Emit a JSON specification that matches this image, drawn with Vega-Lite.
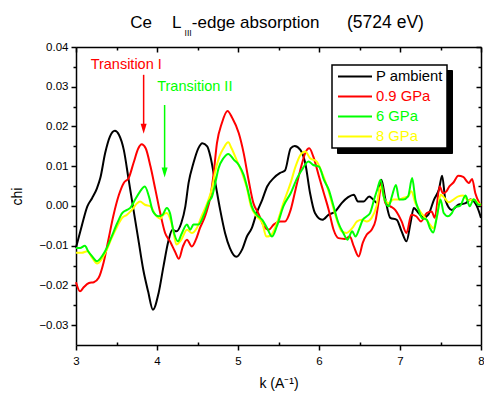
{
"$schema":"https://vega.github.io/schema/vega-lite/v6.json",
"width":405,"height":298,
"autosize":{"type":"none"},
"padding":{"left":76,"top":47,"right":3,"bottom":49},
"config":{
 "font":"Liberation Sans",
 "view":{"stroke":null},
 "axis":{"grid":false,"domainColor":"black","domainWidth":1.5,"tickColor":"black","tickWidth":1.5,"labelFont":"Liberation Sans","labelFontSize":11.5,"labelColor":"black","titleFont":"Liberation Sans","titleFontSize":14,"titleFontWeight":"normal","titleColor":"black","labelFlush":false,"labelOverlap":false},
 "legend":{"labelFont":"Liberation Sans","labelFontSize":14.8,"symbolType":"stroke","symbolSize":1156,"symbolStrokeWidth":2,"clipHeight":15,"rowPadding":4,"labelOffset":3,"symbolOffset":1,"padding":4}
},
"resolve":{"axis":{"x":"independent","y":"independent"}},
"layer":[
{"data":{"values":[
{"s":"P ambient","k":3.00,"chi":-0.0105},{"s":"P ambient","k":3.07,"chi":-0.0051},{"s":"P ambient","k":3.14,"chi":-0.0001},{"s":"P ambient","k":3.20,"chi":0.0020},{"s":"P ambient","k":3.26,"chi":0.0045},{"s":"P ambient","k":3.30,"chi":0.0070},{"s":"P ambient","k":3.36,"chi":0.0133},{"s":"P ambient","k":3.42,"chi":0.0175},{"s":"P ambient","k":3.48,"chi":0.0189},{"s":"P ambient","k":3.53,"chi":0.0179},{"s":"P ambient","k":3.59,"chi":0.0141},{"s":"P ambient","k":3.65,"chi":0.0066},{"s":"P ambient","k":3.71,"chi":-0.0010},{"s":"P ambient","k":3.77,"chi":-0.0085},{"s":"P ambient","k":3.83,"chi":-0.0160},{"s":"P ambient","k":3.89,"chi":-0.0215},{"s":"P ambient","k":3.95,"chi":-0.0261},{"s":"P ambient","k":4.02,"chi":-0.0219},{"s":"P ambient","k":4.08,"chi":-0.0152},{"s":"P ambient","k":4.14,"chi":-0.0089},{"s":"P ambient","k":4.19,"chi":-0.0060},{"s":"P ambient","k":4.24,"chi":-0.0064},{"s":"P ambient","k":4.30,"chi":-0.0043},{"s":"P ambient","k":4.35,"chi":-0.0001},{"s":"P ambient","k":4.39,"chi":0.0058},{"s":"P ambient","k":4.45,"chi":0.0108},{"s":"P ambient","k":4.51,"chi":0.0145},{"s":"P ambient","k":4.56,"chi":0.0158},{"s":"P ambient","k":4.62,"chi":0.0150},{"s":"P ambient","k":4.66,"chi":0.0124},{"s":"P ambient","k":4.72,"chi":0.0058},{"s":"P ambient","k":4.78,"chi":-0.0010},{"s":"P ambient","k":4.84,"chi":-0.0068},{"s":"P ambient","k":4.90,"chi":-0.0106},{"s":"P ambient","k":4.98,"chi":-0.0128},{"s":"P ambient","k":5.05,"chi":-0.0110},{"s":"P ambient","k":5.11,"chi":-0.0077},{"s":"P ambient","k":5.17,"chi":-0.0056},{"s":"P ambient","k":5.23,"chi":-0.0018},{"s":"P ambient","k":5.30,"chi":0.0016},{"s":"P ambient","k":5.36,"chi":0.0049},{"s":"P ambient","k":5.44,"chi":0.0070},{"s":"P ambient","k":5.52,"chi":0.0083},{"s":"P ambient","k":5.58,"chi":0.0089},{"s":"P ambient","k":5.65,"chi":0.0145},{"s":"P ambient","k":5.70,"chi":0.0151},{"s":"P ambient","k":5.77,"chi":0.0141},{"s":"P ambient","k":5.83,"chi":0.0108},{"s":"P ambient","k":5.89,"chi":0.0032},{"s":"P ambient","k":5.95,"chi":-0.0018},{"s":"P ambient","k":6.04,"chi":-0.0035},{"s":"P ambient","k":6.12,"chi":-0.0022},{"s":"P ambient","k":6.20,"chi":-0.0014},{"s":"P ambient","k":6.28,"chi":0.0007},{"s":"P ambient","k":6.36,"chi":0.0022},{"s":"P ambient","k":6.43,"chi":0.0028},{"s":"P ambient","k":6.48,"chi":0.0011},{"s":"P ambient","k":6.55,"chi":0.0011},{"s":"P ambient","k":6.62,"chi":0.0024},{"s":"P ambient","k":6.67,"chi":0.0016},{"s":"P ambient","k":6.72,"chi":0.0007},{"s":"P ambient","k":6.77,"chi":0.0066},{"s":"P ambient","k":6.82,"chi":0.0016},{"s":"P ambient","k":6.88,"chi":-0.0030},{"s":"P ambient","k":6.96,"chi":-0.0035},{"s":"P ambient","k":7.02,"chi":-0.0064},{"s":"P ambient","k":7.08,"chi":-0.0089},{"s":"P ambient","k":7.13,"chi":-0.0043},{"s":"P ambient","k":7.17,"chi":-0.0005},{"s":"P ambient","k":7.23,"chi":-0.0018},{"s":"P ambient","k":7.29,"chi":-0.0030},{"s":"P ambient","k":7.35,"chi":-0.0022},{"s":"P ambient","k":7.42,"chi":0.0016},{"s":"P ambient","k":7.48,"chi":0.0041},{"s":"P ambient","k":7.52,"chi":0.0076},{"s":"P ambient","k":7.56,"chi":0.0016},{"s":"P ambient","k":7.64,"chi":-0.0010},{"s":"P ambient","k":7.72,"chi":0.0003},{"s":"P ambient","k":7.81,"chi":0.0007},{"s":"P ambient","k":7.87,"chi":0.0016},{"s":"P ambient","k":7.95,"chi":-0.0001},{"s":"P ambient","k":8.00,"chi":-0.0030},
{"s":"0.9 GPa","k":3.00,"chi":-0.0192},{"s":"0.9 GPa","k":3.05,"chi":-0.0215},{"s":"0.9 GPa","k":3.09,"chi":-0.0206},{"s":"0.9 GPa","k":3.16,"chi":-0.0194},{"s":"0.9 GPa","k":3.22,"chi":-0.0192},{"s":"0.9 GPa","k":3.28,"chi":-0.0181},{"s":"0.9 GPa","k":3.34,"chi":-0.0143},{"s":"0.9 GPa","k":3.40,"chi":-0.0085},{"s":"0.9 GPa","k":3.46,"chi":-0.0026},{"s":"0.9 GPa","k":3.53,"chi":0.0028},{"s":"0.9 GPa","k":3.59,"chi":0.0058},{"s":"0.9 GPa","k":3.65,"chi":0.0070},{"s":"0.9 GPa","k":3.71,"chi":0.0108},{"s":"0.9 GPa","k":3.77,"chi":0.0145},{"s":"0.9 GPa","k":3.81,"chi":0.0155},{"s":"0.9 GPa","k":3.86,"chi":0.0145},{"s":"0.9 GPa","k":3.92,"chi":0.0099},{"s":"0.9 GPa","k":3.98,"chi":0.0041},{"s":"0.9 GPa","k":4.04,"chi":-0.0018},{"s":"0.9 GPa","k":4.10,"chi":-0.0068},{"s":"0.9 GPa","k":4.16,"chi":-0.0089},{"s":"0.9 GPa","k":4.22,"chi":-0.0114},{"s":"0.9 GPa","k":4.27,"chi":-0.0133},{"s":"0.9 GPa","k":4.32,"chi":-0.0102},{"s":"0.9 GPa","k":4.37,"chi":-0.0085},{"s":"0.9 GPa","k":4.43,"chi":-0.0102},{"s":"0.9 GPa","k":4.48,"chi":-0.0085},{"s":"0.9 GPa","k":4.53,"chi":-0.0056},{"s":"0.9 GPa","k":4.60,"chi":-0.0022},{"s":"0.9 GPa","k":4.66,"chi":0.0024},{"s":"0.9 GPa","k":4.70,"chi":0.0083},{"s":"0.9 GPa","k":4.74,"chi":0.0158},{"s":"0.9 GPa","k":4.80,"chi":0.0208},{"s":"0.9 GPa","k":4.87,"chi":0.0239},{"s":"0.9 GPa","k":4.93,"chi":0.0221},{"s":"0.9 GPa","k":5.01,"chi":0.0183},{"s":"0.9 GPa","k":5.07,"chi":0.0133},{"s":"0.9 GPa","k":5.13,"chi":0.0066},{"s":"0.9 GPa","k":5.19,"chi":0.0007},{"s":"0.9 GPa","k":5.25,"chi":-0.0018},{"s":"0.9 GPa","k":5.32,"chi":-0.0051},{"s":"0.9 GPa","k":5.38,"chi":-0.0060},{"s":"0.9 GPa","k":5.44,"chi":-0.0047},{"s":"0.9 GPa","k":5.52,"chi":-0.0039},{"s":"0.9 GPa","k":5.58,"chi":-0.0039},{"s":"0.9 GPa","k":5.65,"chi":-0.0010},{"s":"0.9 GPa","k":5.71,"chi":0.0041},{"s":"0.9 GPa","k":5.77,"chi":0.0091},{"s":"0.9 GPa","k":5.83,"chi":0.0133},{"s":"0.9 GPa","k":5.88,"chi":0.0145},{"s":"0.9 GPa","k":5.93,"chi":0.0124},{"s":"0.9 GPa","k":6.00,"chi":0.0074},{"s":"0.9 GPa","k":6.06,"chi":0.0032},{"s":"0.9 GPa","k":6.12,"chi":-0.0010},{"s":"0.9 GPa","k":6.18,"chi":-0.0060},{"s":"0.9 GPa","k":6.24,"chi":-0.0081},{"s":"0.9 GPa","k":6.32,"chi":-0.0083},{"s":"0.9 GPa","k":6.38,"chi":-0.0077},{"s":"0.9 GPa","k":6.43,"chi":-0.0102},{"s":"0.9 GPa","k":6.49,"chi":-0.0127},{"s":"0.9 GPa","k":6.54,"chi":-0.0093},{"s":"0.9 GPa","k":6.59,"chi":-0.0072},{"s":"0.9 GPa","k":6.65,"chi":-0.0060},{"s":"0.9 GPa","k":6.70,"chi":-0.0035},{"s":"0.9 GPa","k":6.74,"chi":0.0016},{"s":"0.9 GPa","k":6.77,"chi":0.0058},{"s":"0.9 GPa","k":6.82,"chi":0.0007},{"s":"0.9 GPa","k":6.88,"chi":-0.0001},{"s":"0.9 GPa","k":6.94,"chi":-0.0010},{"s":"0.9 GPa","k":7.02,"chi":-0.0039},{"s":"0.9 GPa","k":7.08,"chi":-0.0068},{"s":"0.9 GPa","k":7.14,"chi":-0.0022},{"s":"0.9 GPa","k":7.20,"chi":-0.0026},{"s":"0.9 GPa","k":7.26,"chi":-0.0039},{"s":"0.9 GPa","k":7.33,"chi":-0.0018},{"s":"0.9 GPa","k":7.39,"chi":-0.0014},{"s":"0.9 GPa","k":7.43,"chi":-0.0030},{"s":"0.9 GPa","k":7.49,"chi":0.0049},{"s":"0.9 GPa","k":7.53,"chi":0.0032},{"s":"0.9 GPa","k":7.57,"chi":0.0036},{"s":"0.9 GPa","k":7.61,"chi":0.0049},{"s":"0.9 GPa","k":7.66,"chi":0.0059},{"s":"0.9 GPa","k":7.72,"chi":0.0076},{"s":"0.9 GPa","k":7.78,"chi":0.0073},{"s":"0.9 GPa","k":7.85,"chi":0.0058},{"s":"0.9 GPa","k":7.89,"chi":0.0068},{"s":"0.9 GPa","k":7.93,"chi":0.0032},{"s":"0.9 GPa","k":7.98,"chi":0.0007},{"s":"0.9 GPa","k":8.00,"chi":0.0000},
{"s":"8 GPa","k":3.00,"chi":-0.0118},{"s":"8 GPa","k":3.07,"chi":-0.0118},{"s":"8 GPa","k":3.14,"chi":-0.0114},{"s":"8 GPa","k":3.20,"chi":-0.0131},{"s":"8 GPa","k":3.26,"chi":-0.0145},{"s":"8 GPa","k":3.32,"chi":-0.0133},{"s":"8 GPa","k":3.38,"chi":-0.0110},{"s":"8 GPa","k":3.44,"chi":-0.0081},{"s":"8 GPa","k":3.51,"chi":-0.0051},{"s":"8 GPa","k":3.57,"chi":-0.0030},{"s":"8 GPa","k":3.63,"chi":-0.0022},{"s":"8 GPa","k":3.69,"chi":-0.0010},{"s":"8 GPa","k":3.75,"chi":0.0006},{"s":"8 GPa","k":3.79,"chi":0.0011},{"s":"8 GPa","k":3.85,"chi":0.0003},{"s":"8 GPa","k":3.92,"chi":-0.0001},{"s":"8 GPa","k":3.98,"chi":-0.0022},{"s":"8 GPa","k":4.04,"chi":-0.0032},{"s":"8 GPa","k":4.08,"chi":-0.0022},{"s":"8 GPa","k":4.12,"chi":-0.0018},{"s":"8 GPa","k":4.19,"chi":-0.0051},{"s":"8 GPa","k":4.24,"chi":-0.0097},{"s":"8 GPa","k":4.30,"chi":-0.0085},{"s":"8 GPa","k":4.37,"chi":-0.0060},{"s":"8 GPa","k":4.43,"chi":-0.0068},{"s":"8 GPa","k":4.49,"chi":-0.0056},{"s":"8 GPa","k":4.55,"chi":-0.0026},{"s":"8 GPa","k":4.62,"chi":0.0007},{"s":"8 GPa","k":4.68,"chi":0.0045},{"s":"8 GPa","k":4.72,"chi":0.0087},{"s":"8 GPa","k":4.77,"chi":0.0124},{"s":"8 GPa","k":4.82,"chi":0.0145},{"s":"8 GPa","k":4.88,"chi":0.0160},{"s":"8 GPa","k":4.92,"chi":0.0145},{"s":"8 GPa","k":4.99,"chi":0.0112},{"s":"8 GPa","k":5.05,"chi":0.0083},{"s":"8 GPa","k":5.11,"chi":0.0045},{"s":"8 GPa","k":5.16,"chi":-0.0001},{"s":"8 GPa","k":5.23,"chi":-0.0026},{"s":"8 GPa","k":5.30,"chi":-0.0043},{"s":"8 GPa","k":5.35,"chi":-0.0077},{"s":"8 GPa","k":5.40,"chi":-0.0075},{"s":"8 GPa","k":5.48,"chi":-0.0043},{"s":"8 GPa","k":5.56,"chi":0.0007},{"s":"8 GPa","k":5.65,"chi":0.0058},{"s":"8 GPa","k":5.71,"chi":0.0099},{"s":"8 GPa","k":5.77,"chi":0.0128},{"s":"8 GPa","k":5.83,"chi":0.0137},{"s":"8 GPa","k":5.89,"chi":0.0120},{"s":"8 GPa","k":5.97,"chi":0.0112},{"s":"8 GPa","k":6.03,"chi":0.0087},{"s":"8 GPa","k":6.10,"chi":0.0049},{"s":"8 GPa","k":6.16,"chi":0.0007},{"s":"8 GPa","k":6.22,"chi":-0.0035},{"s":"8 GPa","k":6.28,"chi":-0.0064},{"s":"8 GPa","k":6.34,"chi":-0.0068},{"s":"8 GPa","k":6.41,"chi":-0.0056},{"s":"8 GPa","k":6.47,"chi":-0.0039},{"s":"8 GPa","k":6.53,"chi":-0.0035},{"s":"8 GPa","k":6.59,"chi":-0.0039},{"s":"8 GPa","k":6.65,"chi":-0.0030},{"s":"8 GPa","k":6.71,"chi":-0.0001},{"s":"8 GPa","k":6.76,"chi":0.0049},{"s":"8 GPa","k":6.81,"chi":0.0016},{"s":"8 GPa","k":6.86,"chi":0.0007},{"s":"8 GPa","k":6.92,"chi":0.0016},{"s":"8 GPa","k":6.98,"chi":0.0016},{"s":"8 GPa","k":7.04,"chi":0.0020},{"s":"8 GPa","k":7.10,"chi":0.0024},{"s":"8 GPa","k":7.14,"chi":0.0037},{"s":"8 GPa","k":7.19,"chi":0.0007},{"s":"8 GPa","k":7.25,"chi":-0.0014},{"s":"8 GPa","k":7.31,"chi":-0.0030},{"s":"8 GPa","k":7.37,"chi":-0.0047},{"s":"8 GPa","k":7.41,"chi":-0.0056},{"s":"8 GPa","k":7.46,"chi":-0.0022},{"s":"8 GPa","k":7.50,"chi":0.0028},{"s":"8 GPa","k":7.55,"chi":0.0020},{"s":"8 GPa","k":7.60,"chi":0.0009},{"s":"8 GPa","k":7.66,"chi":0.0016},{"s":"8 GPa","k":7.72,"chi":0.0024},{"s":"8 GPa","k":7.78,"chi":0.0026},{"s":"8 GPa","k":7.84,"chi":0.0014},{"s":"8 GPa","k":7.91,"chi":0.0016},{"s":"8 GPa","k":7.97,"chi":0.0006},{"s":"8 GPa","k":8.00,"chi":0.0003},
{"s":"6 GPa","k":3.00,"chi":-0.0106},{"s":"6 GPa","k":3.05,"chi":-0.0106},{"s":"6 GPa","k":3.11,"chi":-0.0100},{"s":"6 GPa","k":3.15,"chi":-0.0114},{"s":"6 GPa","k":3.20,"chi":-0.0127},{"s":"6 GPa","k":3.26,"chi":-0.0139},{"s":"6 GPa","k":3.32,"chi":-0.0127},{"s":"6 GPa","k":3.38,"chi":-0.0106},{"s":"6 GPa","k":3.44,"chi":-0.0077},{"s":"6 GPa","k":3.51,"chi":-0.0043},{"s":"6 GPa","k":3.57,"chi":-0.0018},{"s":"6 GPa","k":3.63,"chi":-0.0010},{"s":"6 GPa","k":3.67,"chi":-0.0005},{"s":"6 GPa","k":3.73,"chi":0.0016},{"s":"6 GPa","k":3.79,"chi":0.0036},{"s":"6 GPa","k":3.85,"chi":0.0049},{"s":"6 GPa","k":3.90,"chi":0.0024},{"s":"6 GPa","k":3.95,"chi":-0.0014},{"s":"6 GPa","k":4.02,"chi":-0.0026},{"s":"6 GPa","k":4.07,"chi":-0.0022},{"s":"6 GPa","k":4.12,"chi":-0.0005},{"s":"6 GPa","k":4.16,"chi":-0.0018},{"s":"6 GPa","k":4.20,"chi":-0.0060},{"s":"6 GPa","k":4.26,"chi":-0.0089},{"s":"6 GPa","k":4.30,"chi":-0.0072},{"s":"6 GPa","k":4.37,"chi":-0.0047},{"s":"6 GPa","k":4.41,"chi":-0.0060},{"s":"6 GPa","k":4.45,"chi":-0.0047},{"s":"6 GPa","k":4.51,"chi":-0.0047},{"s":"6 GPa","k":4.58,"chi":-0.0022},{"s":"6 GPa","k":4.64,"chi":0.0011},{"s":"6 GPa","k":4.68,"chi":0.0024},{"s":"6 GPa","k":4.72,"chi":0.0058},{"s":"6 GPa","k":4.76,"chi":0.0095},{"s":"6 GPa","k":4.82,"chi":0.0120},{"s":"6 GPa","k":4.88,"chi":0.0131},{"s":"6 GPa","k":4.95,"chi":0.0116},{"s":"6 GPa","k":5.01,"chi":0.0103},{"s":"6 GPa","k":5.07,"chi":0.0078},{"s":"6 GPa","k":5.12,"chi":0.0041},{"s":"6 GPa","k":5.17,"chi":-0.0001},{"s":"6 GPa","k":5.23,"chi":-0.0022},{"s":"6 GPa","k":5.30,"chi":-0.0035},{"s":"6 GPa","k":5.36,"chi":-0.0056},{"s":"6 GPa","k":5.42,"chi":-0.0077},{"s":"6 GPa","k":5.48,"chi":-0.0051},{"s":"6 GPa","k":5.56,"chi":-0.0001},{"s":"6 GPa","k":5.65,"chi":0.0032},{"s":"6 GPa","k":5.73,"chi":0.0070},{"s":"6 GPa","k":5.79,"chi":0.0091},{"s":"6 GPa","k":5.87,"chi":0.0112},{"s":"6 GPa","k":5.93,"chi":0.0103},{"s":"6 GPa","k":6.00,"chi":0.0099},{"s":"6 GPa","k":6.06,"chi":0.0066},{"s":"6 GPa","k":6.12,"chi":0.0041},{"s":"6 GPa","k":6.18,"chi":-0.0001},{"s":"6 GPa","k":6.24,"chi":-0.0043},{"s":"6 GPa","k":6.30,"chi":-0.0068},{"s":"6 GPa","k":6.35,"chi":-0.0085},{"s":"6 GPa","k":6.41,"chi":-0.0064},{"s":"6 GPa","k":6.45,"chi":-0.0077},{"s":"6 GPa","k":6.50,"chi":-0.0056},{"s":"6 GPa","k":6.54,"chi":-0.0035},{"s":"6 GPa","k":6.59,"chi":-0.0026},{"s":"6 GPa","k":6.63,"chi":-0.0018},{"s":"6 GPa","k":6.68,"chi":0.0016},{"s":"6 GPa","k":6.72,"chi":0.0042},{"s":"6 GPa","k":6.76,"chi":0.0066},{"s":"6 GPa","k":6.80,"chi":0.0024},{"s":"6 GPa","k":6.86,"chi":-0.0001},{"s":"6 GPa","k":6.90,"chi":0.0024},{"s":"6 GPa","k":6.95,"chi":0.0053},{"s":"6 GPa","k":6.99,"chi":0.0016},{"s":"6 GPa","k":7.04,"chi":0.0016},{"s":"6 GPa","k":7.10,"chi":0.0024},{"s":"6 GPa","k":7.15,"chi":0.0070},{"s":"6 GPa","k":7.19,"chi":0.0016},{"s":"6 GPa","k":7.23,"chi":-0.0010},{"s":"6 GPa","k":7.27,"chi":-0.0030},{"s":"6 GPa","k":7.33,"chi":-0.0035},{"s":"6 GPa","k":7.37,"chi":-0.0056},{"s":"6 GPa","k":7.41,"chi":-0.0067},{"s":"6 GPa","k":7.46,"chi":-0.0022},{"s":"6 GPa","k":7.50,"chi":0.0016},{"s":"6 GPa","k":7.54,"chi":-0.0018},{"s":"6 GPa","k":7.59,"chi":-0.0026},{"s":"6 GPa","k":7.64,"chi":-0.0018},{"s":"6 GPa","k":7.68,"chi":-0.0003},{"s":"6 GPa","k":7.74,"chi":0.0000},{"s":"6 GPa","k":7.81,"chi":0.0026},{"s":"6 GPa","k":7.86,"chi":-0.0001},{"s":"6 GPa","k":7.91,"chi":0.0017},{"s":"6 GPa","k":7.97,"chi":0.0003},{"s":"6 GPa","k":8.00,"chi":0.0003}
]},
"mark":{"type":"line","strokeWidth":2,"interpolate":"monotone"},
"encoding":{
 "x":{"field":"k","type":"quantitative","scale":{"domain":[3,8],"nice":false,"zero":false},"axis":{"orient":"bottom","values":[3,4,5,6,7,8],"format":"d","tickSize":5,"labelPadding":5,"title":"k (A⁻¹)","titlePadding":10}},
 "y":{"field":"chi","type":"quantitative","scale":{"domain":[-0.035,0.04],"nice":false,"zero":false},"axis":{"orient":"left","values":[-0.03,-0.02,-0.01,0,0.01,0.02,0.03,0.04],"format":".2f","tickSize":5,"labelPadding":3,"title":"chi","titlePadding":14}},
 "color":{"field":"s","type":"nominal","scale":{"domain":["P ambient","0.9 GPa","6 GPa","8 GPa"],"range":["#000000","#ff0000","#00ff00","#ffff00"]},
  "legend":{"orient":"none","legendX":256,"legendY":18,"direction":"vertical","title":null,"fillColor":"white","strokeColor":"black","zindex":2,
   "encode":{"labels":{"update":{"fill":{"scale":"color","field":"value"}}},"legend":{"update":{"strokeWidth":{"value":1.5}}}}}}
}},
{"data":{"values":[{}]},"mark":{"type":"text","align":"center","baseline":"middle","fontSize":14.5,"color":"#ff0000"},
 "encoding":{"x":{"datum":3.62,"type":"quantitative","axis":{"orient":"bottom","values":[3.5,4.5,5.5,6.5,7.5],"tickSize":-3,"labels":false,"domain":false,"title":null}},
  "y":{"datum":0.0355,"type":"quantitative","axis":{"orient":"left","values":[-0.025,-0.015,-0.005,0.005,0.015,0.025,0.035],"tickSize":3,"labels":false,"domain":false,"title":null}},
  "text":{"value":"Transition I"}}},
{"data":{"values":[{}]},"mark":{"type":"text","align":"center","baseline":"middle","fontSize":14.5,"color":"#00ff00"},
 "encoding":{"x":{"datum":4.467,"type":"quantitative","axis":{"orient":"top","values":[3,4,5,6,7,8],"tickSize":-5,"labels":false,"title":null}},
  "y":{"datum":0.030,"type":"quantitative","axis":{"orient":"right","values":[-0.03,-0.02,-0.01,0,0.01,0.02,0.03,0.04],"tickSize":-5,"labels":false,"title":null}},
  "text":{"value":"Transition II"}}},
{"data":{"values":[{}]},"mark":{"type":"rule","color":"#ff0000","strokeWidth":1.5},
 "encoding":{"x":{"datum":3.835,"type":"quantitative","axis":{"orient":"top","values":[3.5,4.5,5.5,6.5,7.5],"tickSize":-3,"labels":false,"domain":false,"title":null}},
  "y":{"datum":0.0330,"type":"quantitative","axis":{"orient":"right","values":[-0.025,-0.015,-0.005,0.005,0.015,0.025,0.035],"tickSize":-3,"labels":false,"domain":false,"title":null}},
  "y2":{"datum":0.0198}}},
{"data":{"values":[{}]},"mark":{"type":"rule","color":"#00ff00","strokeWidth":1.5},
 "encoding":{"x":{"datum":4.094,"type":"quantitative","axis":null},"y":{"datum":0.0254,"type":"quantitative","axis":null},"y2":{"datum":0.0088}}},
{"data":{"values":[{}]},"mark":{"type":"point","shape":"M -0.6 -1 L 0.6 -1 L 0 1 Z","filled":true,"size":100,"color":"#ff0000","opacity":1},
 "encoding":{"x":{"datum":3.835,"type":"quantitative","axis":null},"y":{"datum":0.0194,"type":"quantitative","axis":null}}},
{"data":{"values":[{}]},"mark":{"type":"point","shape":"M -0.6 -1 L 0.6 -1 L 0 1 Z","filled":true,"size":100,"color":"#00ff00","opacity":1},
 "encoding":{"x":{"datum":4.094,"type":"quantitative","axis":null},"y":{"datum":0.0084,"type":"quantitative","axis":null}}},
{"data":{"values":[{}]},"mark":{"type":"text","align":"left","baseline":"alphabetic","fontSize":17,"color":"black"},
 "encoding":{"x":{"datum":3.670,"type":"quantitative","axis":null},"y":{"datum":0.04471,"type":"quantitative","axis":null},"text":{"value":"Ce"}}},
{"data":{"values":[{}]},"mark":{"type":"text","align":"left","baseline":"alphabetic","fontSize":17,"color":"black"},
 "encoding":{"x":{"datum":4.185,"type":"quantitative","axis":null},"y":{"datum":0.04471,"type":"quantitative","axis":null},"text":{"value":"L"}}},
{"data":{"values":[{}]},"mark":{"type":"text","align":"left","baseline":"alphabetic","fontSize":8.5,"color":"black"},
 "encoding":{"x":{"datum":4.341,"type":"quantitative","axis":null},"y":{"datum":0.04277,"type":"quantitative","axis":null},"text":{"value":"III"}}},
{"data":{"values":[{}]},"mark":{"type":"text","align":"left","baseline":"alphabetic","fontSize":17,"color":"black"},
 "encoding":{"x":{"datum":4.430,"type":"quantitative","axis":null},"y":{"datum":0.04471,"type":"quantitative","axis":null},"text":{"value":"-edge absorption"}}},
{"data":{"values":[{}]},"mark":{"type":"text","align":"left","baseline":"alphabetic","fontSize":17.5,"color":"black"},
 "encoding":{"x":{"datum":6.346,"type":"quantitative","axis":null},"y":{"datum":0.04471,"type":"quantitative","axis":null},"text":{"value":"(5724 eV)"}}},
{"data":{"values":[{"t":"a"},{"t":"b"},{"t":"c"},{"t":"d"}]},"mark":{"type":"line","opacity":0},
 "encoding":{"x":{"datum":5,"type":"quantitative","axis":null},"y":{"datum":0,"type":"quantitative","axis":null},
  "strokeDash":{"field":"t","type":"nominal","scale":{"domain":["a","b","c","d"]},
   "legend":{"orient":"none","legendX":261,"legendY":23,"direction":"vertical","title":null,"fillColor":"black","strokeColor":"black","labelColor":"black","labelOpacity":0,"labelOffset":69.6,"symbolStrokeColor":"black","zindex":1,
    "labelExpr":"''"}}}}
]
}
